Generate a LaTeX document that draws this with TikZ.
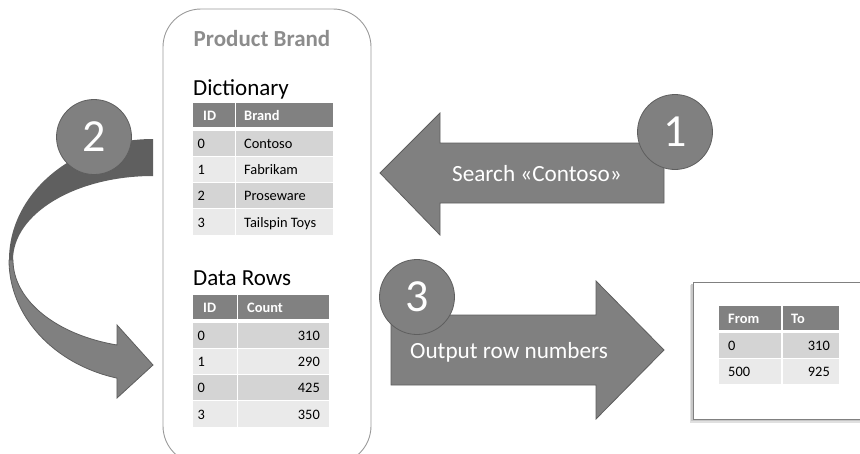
\documentclass[tikz,border=0pt]{standalone}
\usepackage{fontspec}
\setmainfont{Carlito}
\definecolor{shape}{HTML}{808080}
\definecolor{shapeline}{HTML}{5E5E5E}
\definecolor{ribbonback}{HTML}{5F5F5F}
\definecolor{rowdark}{HTML}{D4D4D4}
\definecolor{rowlight}{HTML}{EAEAEA}
\definecolor{headfill}{HTML}{818181}
\definecolor{boxline}{HTML}{9A9A9A}
\definecolor{titlegray}{HTML}{8C8C8C}
\begin{document}
\begin{tikzpicture}[x=1pt,y=-1pt,
  celltext/.style={inner sep=0pt, font=\fontsize{14.4}{16}\selectfont, text=black},
  headtext/.style={inner sep=0pt, font=\fontsize{14.4}{16}\selectfont\bfseries, text=white},
  badge/.style={circle, fill=shape, draw=shapeline, line width=0.8pt, minimum size=75pt,
    inner sep=0pt, text=white, font=\fontsize{46}{46}\selectfont},
  bigarrow/.style={fill=shape, draw=shapeline, line width=0.8pt},
  arrowtext/.style={inner sep=0pt, text=white, font=\fontsize{23.2}{26}\selectfont},
  heading/.style={inner sep=0pt, font=\fontsize{23}{26}\selectfont},
]
\useasboundingbox (0,0) rectangle (860,453);
\clip (0,0) rectangle (860,453);

% container for the Product Brand column
\draw[boxline, line width=0.9pt, rounded corners=38pt] (163,9) rectangle (371,464);
\node[inner sep=0pt, font=\fontsize{23}{26}\selectfont\bfseries, text=titlegray, anchor=base]
  (title) at (262,46) {Product Brand};

% dictionary
\node[heading, anchor=base west] (dict) at (193,95) {Dictionary};
\fill[headfill] (193,103) rectangle (234.5,127);
\fill[headfill] (236,103) rectangle (333,127);
\node[headtext, anchor=base west] (dkh1) at (203,120) {ID};
\node[headtext, anchor=base west] (dkh2) at (244,120) {Brand};
\foreach \i/\b/\c in {0/Contoso/rowdark,1/Fabrikam/rowlight,2/Proseware/rowdark,3/Tailspin Toys/rowlight}{
  \pgfmathsetmacro\t{130.5+26.3*\i}
  \fill[\c] (193,\t) rectangle ++(41.5,25.3);
  \fill[\c] (236,\t) rectangle ++(97,25.3);
  \node[celltext, anchor=base west] (dk\i-a) at (197.5,\t+17.6) {\i};
  \node[celltext, anchor=base west] (dk\i-b) at (244,\t+17.6) {\b};
}

% data rows
\node[heading, anchor=base west] (rows) at (193,285) {Data Rows};
\fill[headfill] (193,295) rectangle (236.5,319);
\fill[headfill] (238,295) rectangle (329,319);
\node[headtext, anchor=base west] (drh1) at (203,312) {ID};
\node[headtext, anchor=base west] (drh2) at (247,312) {Count};
\foreach \id/\n/\c [count=\k from 0] in {0/310/rowdark,1/290/rowlight,0/425/rowdark,3/350/rowlight}{
  \pgfmathsetmacro\t{322.5+26.3*\k}
  \fill[\c] (193,\t) rectangle ++(43.5,25.3);
  \fill[\c] (238,\t) rectangle ++(91,25.3);
  \node[celltext, anchor=base west] (dr\k-a) at (197.5,\t+17.6) {\id};
  \node[celltext, anchor=base east] (dr\k-b) at (320,\t+17.6) {\n};
}

% step 2: curved arrow, back band then front band with head
\fill[ribbonback] (153,139)
  arc[start angle=-90, end angle=-180, x radius=144, y radius=121]
  -- (13,260)
  arc[start angle=180, end angle=270, x radius=140, y radius=84]
  -- cycle;
\path[bigarrow] (9,260)
  arc[start angle=180, end angle=104.5, x radius=144, y radius=122]
  -- (117,398) -- (153,365) -- (117,325) -- (117,345)
  arc[start angle=104.9, end angle=180, x radius=140, y radius=88]
  -- cycle;
\node[badge] (b2) at (94,137) {2};

% step 1: search arrow
\path[bigarrow] (380,173) -- (440,113) -- (440,143) -- (664,143) -- (664,203)
  -- (440,203) -- (440,235) -- cycle;
\node[arrowtext, anchor=base] (search) at (537,181.5) {Search «Contoso»};
\node[badge] (b1) at (675,132) {1};

% step 3: output arrow
\path[bigarrow] (391,315) -- (596,315) -- (596,281) -- (664,350) -- (596,419)
  -- (596,385) -- (391,385) -- cycle;
\node[arrowtext, anchor=base west] (output) at (410,358.5) {Output row numbers};
\node[badge] (b3) at (417,297) {3};

% result panel with drop shadow
\fill[black!12] (690,285) rectangle (870,423);
\fill[black!22] (691,284) rectangle (870,421);
\draw[fill=white, draw=black!50, line width=1pt] (693,282) rectangle (870,419);
\fill[headfill] (719,306) rectangle (781,330);
\fill[headfill] (783,306) rectangle (839,330);
\node[headtext, anchor=base west] (rh1) at (728,323) {From};
\node[headtext, anchor=base west] (rh2) at (791,323) {To};
\foreach \f/\tt/\c [count=\k from 0] in {0/310/rowdark,500/925/rowlight}{
  \pgfmathsetmacro\t{333+25.8*\k}
  \fill[\c] (719,\t) rectangle ++(62,25);
  \fill[\c] (783,\t) rectangle ++(56,25);
  \node[celltext, anchor=base west] (r\k-a) at (728,\t+17.3) {\f};
  \node[celltext, anchor=base east] (r\k-b) at (830,\t+17.3) {\tt};
}
\end{tikzpicture}
\end{document}
